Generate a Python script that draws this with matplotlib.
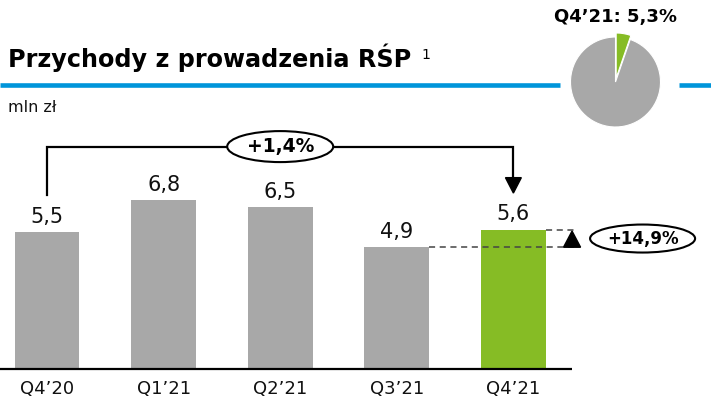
import matplotlib
matplotlib.use("Agg")
import matplotlib.pyplot as plt
from matplotlib.patches import Ellipse, Polygon
from matplotlib.lines import Line2D

categories = ["Q4’20", "Q1’21", "Q2’21", "Q3’21", "Q4’21"]
values = [5.5, 6.8, 6.5, 4.9, 5.6]
value_labels = ["5,5", "6,8", "6,5", "4,9", "5,6"]
yoy_label = "+1,4%"
qoq_label = "+14,9%"
pie_values = [5.3, 94.7]
pie_label = "Q4’21: 5,3%"
title = "Przychody z prowadzenia RŚP"
unit = "mln zł"

GREY = "#A8A8A8"
GREEN = "#86BC25"
BLUE = "#0095DA"

W, H = 711, 400
plt.rcParams['font.family'] = ['DejaVu Sans']
fig = plt.figure(figsize=(W / 100, H / 100), dpi=100)

def fx(px):
    return px / W

def fy(py):
    return 1 - py / H

# main axes covering whole figure; data scale from reference geometry
ax = fig.add_axes([0, 0, 1, 1])
step_px = 116.6
unit_px = 24.85
x0_px = 47
base_px = 369
ax.set_xlim(-x0_px / step_px, (W - x0_px) / step_px)
ax.set_ylim(-(H - base_px) / unit_px, base_px / unit_px)
ax.axis("off")

xs = list(range(len(categories)))
colors = [GREY] * (len(categories) - 1) + [GREEN]
bw = 0.555
ax.bar(xs, values, width=bw, color=colors, zorder=2)

# baseline
ax.plot([ax.get_xlim()[0], len(categories) - 0.5], [0, 0], color="black", lw=1.6, zorder=3,
        solid_capstyle="butt")

# value labels
for x, v, lab in zip(xs, values, value_labels):
    ax.text(x, v + 0.22, lab, ha="center", va="bottom", fontsize=15, color="#111111")

# category labels
for x, c in zip(xs, categories):
    ax.text(x, -0.79, c, ha="center", va="center", fontsize=13, color="#111111")

# bracket from first to last bar
top_y = max(values) + 2.15
ax.plot([xs[0], xs[0], xs[-1], xs[-1]],
        [values[0] + 1.5, top_y, top_y, values[-1] + 2.1],
        color="black", lw=1.6, zorder=3, solid_joinstyle="miter")
ax.add_patch(Polygon([(xs[-1] - 0.068, values[-1] + 2.1), (xs[-1] + 0.068, values[-1] + 2.1),
                      (xs[-1], values[-1] + 1.48)], closed=True, color="black", zorder=4))
mid = (xs[0] + xs[-1]) / 2
ax.add_patch(Ellipse((mid, top_y), 106 / step_px, 31 / unit_px, facecolor="white",
                     edgecolor="black", lw=1.5, zorder=5))
ax.text(mid, top_y, yoy_label, ha="center", va="center", fontsize=13.5, fontweight="bold",
        zorder=6)

# q/q comparison: dashed lines and triangle
x_end = xs[-1] + 0.558
ax.plot([xs[-1] + bw / 2, x_end], [values[-1], values[-1]], color="#444444", lw=1.1,
        ls=(0, (4, 3)), zorder=3)
ax.plot([xs[-2] + bw / 2, x_end], [values[-2], values[-2]], color="#444444", lw=1.1,
        ls=(0, (4, 3)), zorder=3)
tx = xs[-1] + 0.503
ax.add_patch(Polygon([(tx - 0.073, values[-2]), (tx + 0.073, values[-2]),
                      (tx, values[-1] - 0.05)], closed=True, color="black", zorder=4))
ex = xs[-1] + 1.108
ey = (values[-1] + values[-2]) / 2
ax.add_patch(Ellipse((ex, ey), 105 / step_px, 28 / unit_px, facecolor="white",
                     edgecolor="black", lw=1.5, zorder=5))
ax.text(ex, ey, qoq_label, ha="center", va="center", fontsize=12, fontweight="bold", zorder=6)

# header
fig.text(fx(8), fy(67), title, ha="left", va="baseline", fontsize=17.2, fontweight="bold",
         color="black")
fig.text(fx(421), fy(59), "1", ha="left", va="baseline", fontsize=10, color="black")
fig.text(fx(8), fy(112), unit, ha="left", va="baseline", fontsize=11.5, color="#111111")
fig.add_artist(Line2D([0, fx(560)], [fy(84.5), fy(84.5)], color=BLUE, lw=3.3,
                      solid_capstyle="butt"))
fig.add_artist(Line2D([fx(679), 1], [fy(84.5), fy(84.5)], color=BLUE, lw=3.3,
                      solid_capstyle="butt"))

# pie
r = 45
cx, cy = 615.5, 82
half = 1.25 * r
pax = fig.add_axes([fx(cx - half), fy(cy + half), 2 * half / W, 2 * half / H])
wedges, _ = pax.pie(pie_values, colors=[GREEN, GREY], startangle=90, counterclock=False,
                    explode=[0.09, 0], wedgeprops=dict(edgecolor="white", linewidth=0.8))
pax.set_xlim(-1.25, 1.25)
pax.set_ylim(-1.25, 1.25)
fig.text(fx(cx), fy(17), pie_label, ha="center", va="center", fontsize=13, fontweight="bold",
         color="black")

fig.savefig("out.png", dpi=100)
